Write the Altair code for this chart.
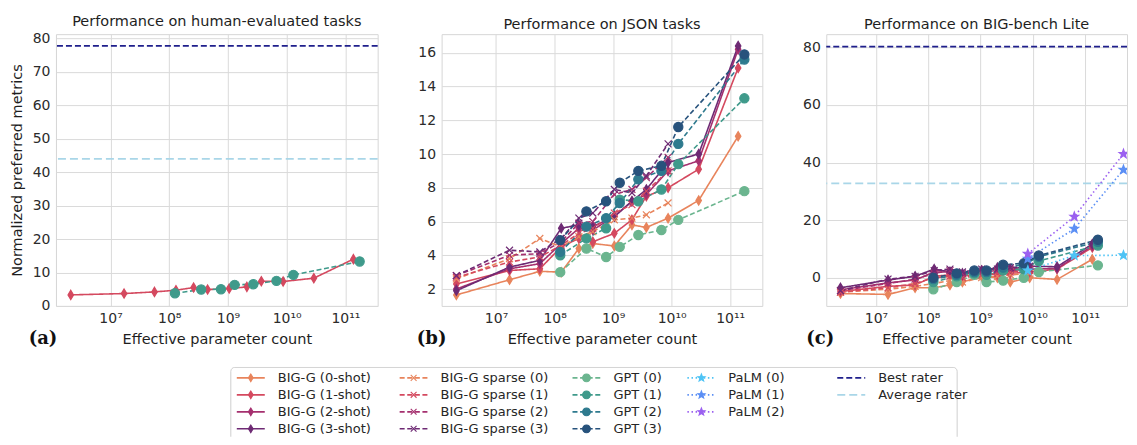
import math
import altair as alt
import pandas as pd

# ---------------- data ----------------
BIG_G_PARAMS = [2.1e6, 1.7e7, 5.6e7, 1.3e8, 2.6e8, 4.5e8, 1.05e9, 2.1e9, 3.7e9, 8.7e9, 2.9e10, 1.37e11]
SPARSE_PARAMS = [2.1e6, 1.7e7, 5.6e7, 1.3e8, 2.6e8, 4.5e8, 1.05e9, 2.1e9, 3.7e9, 8.7e9]
GPT_PARAMS = [1.25e8, 3.5e8, 7.6e8, 1.3e9, 2.7e9, 6.7e9, 1.3e10, 1.75e11]
PALM_PARAMS = [8e9, 6.2e10, 5.4e11]

# (a) human-evaluated tasks
HUMAN_BIGG1 = [3.3, 3.7, 4.2, 4.7, 5.5, 4.9, 5.2, 5.7, 7.4, 7.3, 8.3, 14.0]
HUMAN_GPT1 = [3.8, 4.9, 5.0, 6.3, 6.5, 7.5, 9.3, 13.3]
HUMAN_BEST = 77.8
HUMAN_AVG = 44.0

# (b) JSON tasks
JSON_BIGG0 = [1.65, 2.55, 3.05, 3.0, 4.4, 4.7, 4.55, 5.8, 5.65, 6.2, 7.25, 11.05]
JSON_BIGG1 = [2.3, 3.1, 3.2, 4.5, 5.0, 4.8, 5.3, 6.1, 7.5, 8.0, 9.1, 15.1]
JSON_BIGG2 = [2.0, 3.2, 3.5, 4.7, 5.6, 5.5, 6.3, 7.2, 7.6, 9.0, 9.6, 16.2]
JSON_BIGG3 = [1.9, 3.3, 3.7, 5.6, 5.8, 5.7, 6.3, 7.2, 7.9, 9.5, 10.0, 16.4]
JSON_SP0 = [2.6, 3.8, 5.0, 4.5, 5.1, 5.4, 6.1, 6.2, 6.4, 7.1]
JSON_SP1 = [2.7, 3.6, 3.9, 4.6, 5.3, 5.6, 6.5, 7.0, 7.8, 9.0]
JSON_SP2 = [2.8, 4.0, 4.1, 4.8, 5.9, 6.0, 7.6, 7.9, 8.6, 9.8]
JSON_SP3 = [2.8, 4.3, 4.2, 5.0, 6.2, 6.5, 7.9, 7.7, 8.7, 10.6]
JSON_GPT0 = [3.0, 4.4, 3.9, 4.5, 5.2, 5.5, 6.1, 7.8]
JSON_GPT1 = [4.0, 5.0, 5.6, 7.3, 7.2, 7.9, 9.4, 13.3]
JSON_GPT2 = [4.2, 5.7, 6.2, 7.1, 8.5, 9.0, 10.6, 15.6]
JSON_GPT3 = [4.9, 6.6, 7.2, 8.3, 9.0, 9.3, 11.6, 15.9]

# (c) BIG-bench Lite
LITE_BIGG0 = [-5.5, -5.8, -3.5, -3.5, -2.5, -1.5, 0.5, 0.0, -1.5, 0.0, -0.6, 6.4]
LITE_BIGG1 = [-4.8, -3.0, -2.5, 0.5, 1.0, 0.5, 1.5, 1.0, 1.5, 2.0, 3.0, 10.5]
LITE_BIGG2 = [-4.2, -1.8, -0.8, 2.0, 2.0, 1.0, 2.5, 3.0, 2.5, 3.0, 3.2, 11.0]
LITE_BIGG3 = [-3.5, -0.8, 0.5, 3.0, 2.0, 1.5, 2.5, 3.5, 3.0, 4.0, 3.8, 11.7]
LITE_SP0 = [-5.0, -4.0, -3.0, -2.0, -1.0, -1.5, 0.0, 0.5, 1.0, 1.5]
LITE_SP1 = [-5.0, -3.5, -2.0, 0.0, 0.5, 0.0, 1.0, 1.5, 2.0, 2.5]
LITE_SP2 = [-4.5, -2.0, -0.5, 1.5, 2.5, 1.5, 2.0, 2.5, 3.0, 3.0]
LITE_SP3 = [-4.5, -0.5, 0.5, 2.5, 3.0, 2.0, 3.0, 3.0, 3.5, 4.0]
LITE_GPT0 = [-4.0, -1.5, 1.0, -1.5, -1.0, 0.0, 2.0, 4.3]
LITE_GPT1 = [-1.5, 0.5, 1.5, 1.0, 2.5, 3.0, 5.8, 11.2]
LITE_GPT2 = [-0.5, 1.0, 2.0, 2.0, 3.5, 4.5, 7.3, 12.5]
LITE_GPT3 = [0.0, 1.5, 2.5, 2.5, 4.5, 5.0, 7.7, 13.2]
LITE_PALM0 = [2.5, 7.7, 7.8]
LITE_PALM1 = [6.6, 17.0, 37.5]
LITE_PALM2 = [8.3, 21.2, 43.0]
LITE_BEST = 80.3
LITE_AVG = 32.8

# ---------------- styles ----------------
def star_path(n=5, inner=0.42):
    pts = []
    for i in range(2 * n):
        r = 1.0 if i % 2 == 0 else inner
        a = -math.pi / 2 + i * math.pi / n
        pts.append(f"{r * math.cos(a):.3f},{r * math.sin(a):.3f}")
    return "M" + "L".join(pts) + "Z"

DIAMOND = "M0,-1L0.6,0L0,1L-0.6,0Z"
XMARK = "M-0.75,-0.75L0.75,0.75M-0.75,0.75L0.75,-0.75"
STAR = star_path()

BIGG_NAMES = ["BIG-G (0-shot)", "BIG-G (1-shot)", "BIG-G (2-shot)", "BIG-G (3-shot)"]
SPARSE_NAMES = ["BIG-G sparse (0)", "BIG-G sparse (1)", "BIG-G sparse (2)", "BIG-G sparse (3)"]
GPT_NAMES = ["GPT (0)", "GPT (1)", "GPT (2)", "GPT (3)"]
PALM_NAMES = ["PaLM (0)", "PaLM (1)", "PaLM (2)"]
RATER_NAMES = ["Best rater", "Average rater"]

BIGG_COLORS = ["#e8845c", "#d4495f", "#a5306f", "#6e2a74"]
GPT_COLORS = ["#6bb58f", "#3f9a8b", "#2e7a8e", "#27527c"]
PALM_COLORS = ["#4ec3f5", "#5b8ff5", "#9b60f0"]
RATER_COLORS = ["#1f1f8c", "#a9d6e8"]

SOLID, DASHED, DOTTED = [1, 0], [5, 2.6], [1.5, 2.6]

SERIES = BIGG_NAMES + SPARSE_NAMES + GPT_NAMES + PALM_NAMES + RATER_NAMES
COLORS = BIGG_COLORS + BIGG_COLORS + GPT_COLORS + PALM_COLORS + RATER_COLORS
DASHES = [SOLID] * 4 + [DASHED] * 4 + [DASHED] * 4 + [DOTTED] * 3 + [[6, 3], [8, 4]]
SHAPES = [DIAMOND] * 4 + [XMARK] * 4 + ["circle"] * 4 + [STAR] * 3 + ["circle"] * 2
SIZES = [85] * 4 + [64] * 4 + [40] * 4 + [150] * 3 + [0] * 2
LEG_SIZES = [60] * 4 + [48] * 4 + [30] * 4 + [110] * 3 + [0] * 2

color_enc = alt.Color("series:N", scale=alt.Scale(domain=SERIES, range=COLORS), legend=None)
stroke_enc = alt.Stroke("series:N", scale=alt.Scale(domain=SERIES, range=COLORS), legend=None)
dash_enc = alt.StrokeDash("series:N", scale=alt.Scale(domain=SERIES, range=DASHES), legend=None)
shape_enc = alt.Shape("series:N", scale=alt.Scale(domain=SERIES, range=SHAPES), legend=None)

XTICKS = [1e7, 1e8, 1e9, 1e10, 1e11]
XLABEL = ("datum.value < 5e7 ? '10⁷' : datum.value < 5e8 ? '10⁸' : "
          "datum.value < 5e9 ? '10⁹' : datum.value < 5e10 ? '10¹⁰' : '10¹¹'")
PH = 272


def panel(title, series, raters, ydom, yticks, ytitle, letter, letter_dx, width, xdom, clip=False):
    rows = []
    for name, (xs, ys) in series.items():
        for x, y in zip(xs, ys):
            rows.append({"series": name, "params": x, "score": y})
    df = pd.DataFrame(rows)
    X = alt.X("params:Q", scale=alt.Scale(type="log", domain=xdom, nice=False),
              axis=alt.Axis(values=XTICKS, labelExpr=XLABEL, title="Effective parameter count",
                            labelOverlap=False))
    Y = alt.Y("score:Q", scale=alt.Scale(domain=ydom, nice=False, zero=False),
              axis=alt.Axis(values=yticks, title=ytitle, labelOverlap=False))
    size_enc = alt.Size("series:N", scale=alt.Scale(domain=SERIES, range=SIZES), legend=None)
    base = alt.Chart(df)
    lines = base.mark_line(strokeWidth=1.6, clip=clip).encode(
        x=X, y=Y, color=color_enc, strokeDash=dash_enc, detail="series:N")
    pts = base.mark_point(filled=True, opacity=1, strokeWidth=1.2, clip=clip).encode(
        x=X, y=Y, color=color_enc, stroke=stroke_enc, shape=shape_enc, size=size_enc)
    layers = [lines, pts]
    if raters:
        rdf = pd.DataFrame({"series": RATER_NAMES, "score": raters})
        layers.insert(0, alt.Chart(rdf).mark_rule(strokeWidth=1.8).encode(
            y=Y, color=color_enc, strokeDash=dash_enc))
    lab = alt.Chart(pd.DataFrame({"t": [letter]})).mark_text(
        font="DejaVu Serif", fontWeight="bold", fontSize=18, color="#111111",
        align="center", baseline="middle").encode(
        x=alt.value(letter_dx), y=alt.value(PH + 33), text="t:N")
    layers.append(lab)
    return alt.layer(*layers).properties(width=width, height=PH, title=title)


XDOM_AB = [10 ** 6.07, 10 ** 11.55]
XDOM_C = [10 ** 6.05, 10 ** 11.80]

pa = panel("Performance on human-evaluated tasks",
           {"BIG-G (1-shot)": (BIG_G_PARAMS, HUMAN_BIGG1), "GPT (1)": (GPT_PARAMS, HUMAN_GPT1)},
           [HUMAN_BEST, HUMAN_AVG], [0, 81.3], [0, 10, 20, 30, 40, 50, 60, 70, 80],
           "Normalized preferred metrics", "(a)", -13, 322, XDOM_AB)

json_series = {}
for n, v in zip(BIGG_NAMES, [JSON_BIGG0, JSON_BIGG1, JSON_BIGG2, JSON_BIGG3]):
    json_series[n] = (BIG_G_PARAMS, v)
for n, v in zip(SPARSE_NAMES, [JSON_SP0, JSON_SP1, JSON_SP2, JSON_SP3]):
    json_series[n] = (SPARSE_PARAMS, v)
for n, v in zip(GPT_NAMES, [JSON_GPT0, JSON_GPT1, JSON_GPT2, JSON_GPT3]):
    json_series[n] = (GPT_PARAMS, v)
pb = panel("Performance on JSON tasks", json_series, None, [1.0, 17.1],
           [2, 4, 6, 8, 10, 12, 14, 16], None, "(b)", -10, 321, XDOM_AB)

lite_series = {}
for n, v in zip(BIGG_NAMES, [LITE_BIGG0, LITE_BIGG1, LITE_BIGG2, LITE_BIGG3]):
    lite_series[n] = (BIG_G_PARAMS, v)
for n, v in zip(SPARSE_NAMES, [LITE_SP0, LITE_SP1, LITE_SP2, LITE_SP3]):
    lite_series[n] = (SPARSE_PARAMS, v)
for n, v in zip(GPT_NAMES, [LITE_GPT0, LITE_GPT1, LITE_GPT2, LITE_GPT3]):
    lite_series[n] = (GPT_PARAMS, v)
for n, v in zip(PALM_NAMES, [LITE_PALM0, LITE_PALM1, LITE_PALM2]):
    lite_series[n] = (PALM_PARAMS, v)
pc = panel("Performance on BIG-bench Lite", lite_series, [LITE_BEST, LITE_AVG], [-9.8, 84.6],
           [0, 20, 40, 60, 80], None, "(c)", -6, 301, XDOM_C, clip=True)

top = alt.hconcat(pa, pb, pc, spacing=64, bounds="flush")

# ---------------- legend ----------------
LW, LH = 960, 70
BOX_X = [175, 902]
COL_TX = [222, 385, 558, 673, 823]
ROW_Y = [11, 28, 45, 62]
LEG_COLS = [BIGG_NAMES, SPARSE_NAMES, GPT_NAMES, PALM_NAMES, RATER_NAMES]
lrows = []
for ci, names in enumerate(LEG_COLS):
    for ri, n in enumerate(names):
        tx = COL_TX[ci]
        lrows.append({"series": n, "label": n, "tx": tx, "hx1": tx - 41, "hx2": tx - 13,
                      "hm": tx - 27, "ty": ROW_Y[ri], "marker": n not in RATER_NAMES})
ldf = pd.DataFrame(lrows)
LX = alt.Scale(domain=[0, LW], nice=False, zero=False)
LY = alt.Scale(domain=[0, LH], nice=False, zero=False, reverse=True)
lbase = alt.Chart(ldf)
box = alt.Chart(pd.DataFrame({"b": [0]})).mark_rect(
    fill="white", stroke="#cfcfcf", strokeWidth=1, cornerRadius=4, clip=True).encode(
    x=alt.value(BOX_X[0]), x2=alt.value(BOX_X[1]), y=alt.value(0.5), y2=alt.value(LH + 20))
lrule = lbase.mark_rule(strokeWidth=1.6).encode(
    x=alt.X("hx1:Q", scale=LX, axis=None), x2="hx2:Q",
    y=alt.Y("ty:Q", scale=LY, axis=None), color=color_enc, strokeDash=dash_enc)
lpts = lbase.transform_filter("datum.marker").mark_point(filled=True, opacity=1, strokeWidth=1.1).encode(
    x=alt.X("hm:Q", scale=LX, axis=None), y=alt.Y("ty:Q", scale=LY, axis=None),
    color=color_enc, stroke=stroke_enc, shape=shape_enc,
    size=alt.Size("series:N", scale=alt.Scale(domain=SERIES, range=LEG_SIZES), legend=None))
ltext = lbase.mark_text(align="left", baseline="middle", font="DejaVu Sans", fontSize=13,
                        color="#262626").encode(
    x=alt.X("tx:Q", scale=LX, axis=None), y=alt.Y("ty:Q", scale=LY, axis=None), text="label:N")
legend = alt.layer(box, lrule, lpts, ltext).properties(
    width=LW, height=LH, view=alt.ViewBackground(stroke="transparent"))

chart = alt.vconcat(top, legend, spacing=17).resolve_scale(size="independent").properties(
    padding={"left": 0, "top": 5, "right": 0, "bottom": 0}
).configure_axis(
    grid=True, gridColor="#dadada", gridWidth=1, domain=False, ticks=False,
    labelFont="DejaVu Sans", labelFontSize=14, labelColor="#2b2b2b", labelPadding=6,
    titleFont="DejaVu Sans", titleFontSize=14.5, titleFontWeight="normal", titleColor="#1e1e1e"
).configure_axisX(titlePadding=7).configure_axisY(titlePadding=8, labelPadding=6).configure_title(
    font="DejaVu Sans", fontSize=14.5, fontWeight="normal", color="#1e1e1e", offset=2, anchor="middle"
).configure_view(stroke="#d6d6d6", strokeWidth=1).configure_legend(disable=True)

chart.save("out.html", embed_options={"renderer": "svg", "actions": False})
